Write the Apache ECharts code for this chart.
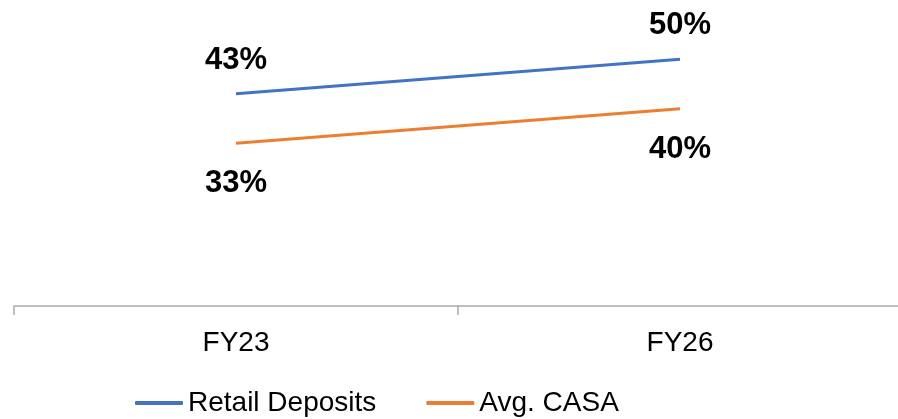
<!DOCTYPE html>
<html>
<head>
<meta charset="utf-8">
<script src="https://cdn.jsdelivr.net/npm/echarts@6/dist/echarts.min.js"></script>
<style>html,body{margin:0;padding:0;background:#fff;overflow:hidden;}#c{width:902px;height:419px;}</style>
</head>
<body>
<div id="c"></div>
<script>
const categories = ['FY23', 'FY26'];
const retailDeposits = [43, 50];
const avgCasa = [33, 40];
const seriesNames = ['Retail Deposits', 'Avg. CASA'];

const chart = echarts.init(document.getElementById('c'), null, {renderer: 'canvas'});
const font = 'Arial, "Liberation Sans", sans-serif';
chart.setOption({
  animation: false,
  backgroundColor: '#ffffff',
  grid: {left: 14, right: 0, top: 10, bottom: 113, containLabel: false},
  xAxis: {
    type: 'category',
    data: categories,
    boundaryGap: true,
    axisLine: {lineStyle: {color: '#ABABAB', width: 1.5}},
    axisTick: {show: true, length: 9, lineStyle: {color: '#ABABAB', width: 1.5}},
    axisLabel: {color: '#000', fontSize: 28, fontFamily: font, margin: 23}
  },
  yAxis: {
    type: 'value', min: 0, max: 60, show: false,
    splitLine: {show: false}
  },
  legend: {
    left: 130, top: 384,
    itemWidth: 48, itemHeight: 4, itemGap: 50,
    icon: 'roundRect',
    textStyle: {color: '#000', fontSize: 28, fontFamily: font},
    data: seriesNames
  },
  series: [
    {
      name: seriesNames[0], type: 'line', data: retailDeposits,
      symbol: 'circle', symbolSize: 0, showSymbol: true, color: '#4472C4',
      lineStyle: {width: 3, color: '#4472C4'},
      label: {show: true, position: 'top', distance: 18, formatter: '{c}%', fontSize: 31, fontWeight: 'bold', color: '#000', fontFamily: font}
    },
    {
      name: seriesNames[1], type: 'line', data: avgCasa,
      symbol: 'circle', symbolSize: 0, showSymbol: true, color: '#ED7D31',
      lineStyle: {width: 3, color: '#ED7D31'},
      label: {show: true, position: 'bottom', distance: 25, formatter: '{c}%', fontSize: 31, fontWeight: 'bold', color: '#000', fontFamily: font}
    }
  ]
});
</script>
</body>
</html>
